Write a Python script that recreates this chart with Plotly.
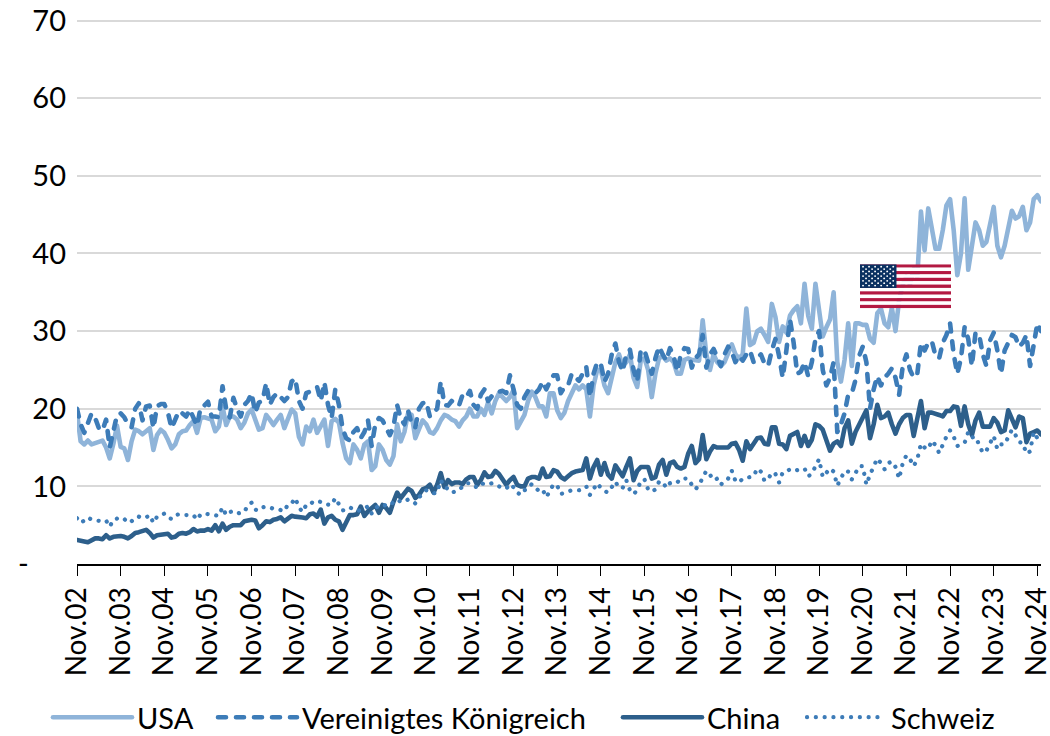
import base64
import plotly.graph_objects as go

usa = [
 19.4,15.8,15.4,15.9,15.4,15.6,15.7,15.9,15.0,13.6,15.5,17.8,
 15.1,14.9,13.4,15.8,17.3,17.1,16.7,17.1,17.5,14.7,16.6,17.3,
 16.9,16.0,14.9,15.4,16.7,17.1,17.2,17.9,18.4,16.9,18.8,18.9,
 18.8,18.6,17.1,17.7,20.3,17.9,19.0,19.0,18.6,17.5,18.2,19.4,
 19.9,18.6,17.3,17.5,19.2,18.6,17.9,18.6,19.2,17.5,18.6,19.9,
 19.4,16.4,15.4,17.7,17.1,18.6,16.9,17.9,18.6,15.2,18.4,18.7,
 18.2,15.6,13.6,13.0,15.4,14.7,13.6,15.4,15.8,12.1,12.6,15.4,
 14.7,13.4,12.8,13.9,18.0,15.8,17.0,19.4,19.2,16.2,17.5,18.5,
 18.0,17.0,16.8,17.5,18.5,19.2,19.0,18.6,18.4,17.7,18.5,19.0,
 20.0,19.0,19.0,20.0,19.2,20.8,19.4,21.0,22.0,21.5,21.0,21.5,
 22.4,17.5,18.5,19.2,21.0,22.2,21.5,20.3,20.3,19.0,22.0,22.0,
 19.8,18.8,19.5,21.0,22.0,23.0,22.5,23.0,22.5,19.0,23.0,25.0,
 25.0,23.0,22.0,24.0,26.0,27.0,25.5,26.0,27.0,24.0,22.8,26.3,
 26.5,25.0,21.5,24.5,26.5,26.8,26.2,26.5,26.0,24.5,24.5,26.3,
 26.5,26.3,26.3,26.2,31.4,27.0,25.0,27.0,26.0,25.5,26.0,27.0,
 28.3,27.0,26.5,27.0,32.9,28.2,28.5,30.0,30.3,29.5,28.6,33.5,
 31.8,28.6,30.6,29.8,32.0,32.7,33.2,31.0,36.1,32.0,30.3,36.1,
 33.0,29.3,30.5,31.5,35.0,26.0,23.5,26.3,31.0,25.5,31.0,31.0,
 30.8,30.8,29.0,28.5,32.3,32.9,31.0,30.5,33.0,30.0,34.0,36.0,
 37.0,36.0,38.0,37.0,45.4,40.4,45.8,43.0,40.6,40.6,43.0,46.2,
 47.0,43.0,37.2,40.0,47.1,37.9,41.5,44.0,43.0,41.0,41.5,44.0,
 46.0,41.0,39.5,41.0,43.5,45.5,44.5,44.8,46.0,43.0,44.0,47.0,
 47.5,46.7]

uk = [
 20.0,18.0,16.9,18.0,19.4,18.8,17.5,17.2,18.6,15.0,17.5,19.2,
 19.4,18.9,18.0,17.6,20.0,20.7,18.5,20.3,20.4,17.5,20.3,20.6,
 20.6,19.5,17.5,18.5,19.7,19.4,19.0,19.9,19.0,17.8,20.2,20.4,
 20.9,19.0,19.0,18.9,22.9,20.0,18.9,21.4,20.0,19.0,20.5,21.0,
 22.0,19.5,20.8,21.0,23.3,20.5,21.5,22.0,21.5,21.0,21.5,23.5,
 23.9,21.0,20.0,22.0,22.2,22.5,22.8,21.0,23.4,20.5,18.8,22.5,
 20.5,17.5,16.2,15.9,17.0,17.5,16.2,17.0,18.5,15.2,18.0,18.8,
 18.5,17.5,16.6,17.7,20.5,18.7,18.0,19.8,18.0,17.6,20.0,20.7,
 20.9,19.0,19.6,20.0,23.5,20.5,20.4,21.0,20.6,20.4,21.8,21.5,
 22.3,20.5,20.0,21.8,22.5,21.0,21.6,22.0,22.2,22.3,22.0,24.3,
 22.5,20.5,20.0,21.5,22.3,22.3,22.0,22.5,23.5,22.5,23.5,24.3,
 24.3,22.0,22.8,23.0,24.5,24.0,23.6,24.5,25.4,21.5,24.5,26.0,
 25.8,23.5,24.5,27.0,28.4,26.0,24.8,27.0,27.6,25.0,23.5,27.6,
 27.5,26.0,24.5,26.5,28.0,27.0,26.2,27.8,26.8,24.8,27.0,27.8,
 27.7,25.3,26.5,27.0,29.5,25.3,27.0,27.7,26.5,25.5,27.0,28.0,
 27.3,26.0,26.8,26.2,27.0,27.5,26.0,26.5,27.0,25.8,25.5,27.5,
 29.0,26.8,24.0,27.5,31.5,28.5,24.5,24.8,26.0,24.2,26.0,29.0,
 30.0,25.0,23.0,24.0,26.0,17.0,18.0,19.4,21.8,22.0,23.7,26.8,
 28.0,26.0,20.0,22.5,24.2,23.0,24.0,24.5,25.2,24.0,21.8,25.5,
 27.0,25.0,24.0,24.5,28.5,27.5,28.5,28.7,26.8,26.5,28.5,29.5,
 31.0,27.0,24.5,26.5,30.5,29.0,25.5,29.8,29.5,27.0,25.5,28.8,
 29.8,27.5,24.5,27.5,28.5,29.5,29.2,28.0,28.5,29.5,25.5,28.5,
 31.0,30.0]

china = [
 3.1,3.05,2.9,2.8,3.1,3.3,3.3,3.2,3.7,3.3,3.5,3.6,
 3.6,3.5,3.3,3.6,4.0,4.1,4.2,4.4,4.0,3.4,3.7,3.8,
 3.9,3.9,3.4,3.5,3.9,4.0,3.9,4.1,4.5,4.2,4.3,4.3,
 4.5,4.3,5.0,4.2,5.2,4.4,4.8,5.0,5.0,5.0,5.5,5.6,
 5.7,5.6,4.6,5.0,5.5,5.4,5.7,5.8,6.0,5.5,5.9,6.2,
 6.1,6.1,6.0,5.9,6.4,6.5,6.1,7.0,5.2,6.0,6.2,5.7,
 5.5,4.4,5.5,6.3,6.3,6.4,7.4,6.2,6.8,7.2,7.6,6.6,
 7.6,7.2,6.6,8.0,9.2,8.5,9.2,9.7,9.4,8.5,8.9,9.6,
 9.8,10.2,9.2,10.2,11.7,9.9,10.8,10.3,10.5,10.5,10.3,10.9,
 11.2,11.2,10.2,10.8,11.8,11.2,11.3,12.0,11.6,10.8,10.2,10.8,
 11.2,10.2,10.0,10.0,11.0,11.2,11.2,11.0,12.3,11.2,11.3,12.1,
 11.9,11.2,10.9,11.3,11.7,11.9,12.0,12.1,13.6,11.0,12.5,13.4,
 11.5,13.0,11.5,11.0,12.7,12.0,11.3,12.5,13.6,10.8,12.0,12.5,
 12.5,12.5,11.0,11.2,12.8,13.4,11.5,13.0,13.2,12.5,12.3,12.5,
 14.2,15.2,13.0,13.5,16.6,13.5,14.5,15.2,15.0,15.0,15.0,15.0,
 15.5,15.6,14.7,13.3,15.8,14.8,15.5,16.2,16.3,15.5,15.4,17.6,
 17.6,15.5,15.4,14.8,16.5,16.8,17.0,15.2,16.5,15.2,16.0,18.0,
 17.8,17.3,15.8,14.6,15.5,15.8,15.2,17.5,18.5,15.5,17.0,18.0,
 19.0,19.8,16.2,18.0,20.5,18.8,19.0,19.5,18.0,16.8,18.0,18.8,
 19.2,19.2,16.5,18.5,21.0,17.5,19.5,19.5,19.4,19.2,19.0,19.7,
 19.7,20.3,20.2,17.8,20.3,18.0,16.6,18.5,19.5,17.7,17.7,17.7,
 18.8,18.2,17.0,17.2,19.8,18.8,17.6,19.0,18.8,15.7,16.8,17.0,
 17.2,16.7]

schweiz = [
 5.9,5.3,5.6,6.0,5.7,5.6,5.6,5.5,5.6,4.8,5.7,5.9,
 6.0,5.8,5.3,5.5,6.0,6.1,5.9,6.0,6.3,5.3,6.1,6.2,
 6.5,6.0,5.8,6.3,6.4,6.3,6.3,6.3,6.3,5.7,6.4,6.5,
 6.4,6.4,6.3,6.2,7.3,6.3,6.7,6.8,6.5,6.6,6.7,7.6,
 7.9,7.0,6.9,7.3,7.4,7.3,7.1,7.1,7.0,6.8,7.7,7.8,
 8.5,7.3,6.7,7.6,7.6,8.1,8.1,8.0,7.7,7.6,7.6,8.5,
 7.7,6.9,7.0,7.3,7.0,6.8,7.0,7.2,7.4,6.5,7.2,7.5,
 7.7,7.5,7.5,8.0,8.3,8.0,8.0,8.3,8.2,7.8,8.6,9.0,
 9.5,9.4,9.1,9.2,10.8,9.9,9.7,9.2,9.4,9.5,10.0,10.4,
 10.4,10.0,9.9,10.4,10.3,10.2,10.4,10.3,10.0,9.8,9.7,10.3,
 9.9,9.2,8.9,9.5,9.7,10.3,9.9,9.4,9.6,8.6,9.4,10.3,
 10.1,9.0,9.2,9.4,9.5,9.5,9.5,9.7,10.0,8.9,9.6,10.4,
 9.8,9.4,9.2,10.0,10.6,9.8,9.8,10.8,9.5,9.0,9.5,10.7,
 10.9,9.6,9.3,9.6,10.6,10.6,9.8,10.4,10.6,10.5,11.0,11.0,
 11.0,10.2,9.6,10.2,11.0,12.0,11.5,10.8,11.0,10.2,10.8,11.0,
 12.0,10.7,10.5,11.0,11.1,11.2,11.3,12.3,11.9,10.7,10.9,11.8,
 11.6,10.5,11.8,11.9,12.2,12.0,12.1,12.2,12.3,11.3,11.6,12.6,
 13.5,11.2,11.8,12.3,11.9,10.1,11.0,12.0,11.9,10.9,11.7,12.6,
 12.6,10.2,11.5,12.6,13.6,13.0,12.2,13.0,13.2,12.5,11.0,13.0,
 14.0,13.5,12.6,13.5,15.5,15.0,14.8,15.9,15.3,14.3,15.4,16.4,
 17.2,16.4,15.2,15.4,15.6,17.0,16.3,16.4,15.2,14.3,14.6,15.6,
 16.5,14.8,15.4,15.4,16.3,17.3,16.6,15.7,15.6,14.2,14.5,17.0,
 16.2,16.5]

tick_labels = ["Nov.%02d" % y for y in range(2, 25)]
y_ticks = [0, 10, 20, 30, 40, 50, 60, 70]
y_labels = ["-" + "\u00a0" * 5, "10", "20", "30", "40", "50", "60", "70"]
series_names = ["USA", "Vereinigtes Königreich", "China", "Schweiz"]

FONT = "Lato, Carlito, Calibri, sans-serif"
x = list(range(len(usa)))

L, R, T, B = 77, 1041, 18.5, 564
W, H = R - L, B - T

fig = go.Figure()
fig.add_scatter(x=x, y=usa, name=series_names[0], mode="lines", legend="legend", showlegend=True,
                line=dict(color="#8FB4D9", width=4.6))
fig.add_scatter(x=x, y=uk, name=series_names[1], mode="lines", legend="legend2", showlegend=True,
                line=dict(color="#3D7CB8", width=4.6, dash="8px,10px"))
fig.add_scatter(x=x, y=china, name=series_names[2], mode="lines", legend="legend3", showlegend=True,
                line=dict(color="#2D5F8B", width=4.6))
fig.add_scatter(x=x, y=schweiz, name=series_names[3], mode="lines", legend="legend4", showlegend=True,
                line=dict(color="#3D7CB8", width=4.2, dash="0.1px,8.7px"))

# US flag as an inline SVG
stripes = "".join(
    f'<rect y="{i}" width="247" height="1" fill="{"#B31942" if i % 2 == 0 else "#FFFFFF"}"/>'
    for i in range(13))
stars = ""
for r in range(9):
    cols = 6 if r % 2 == 0 else 5
    for c in range(cols):
        stars += (f'<ellipse cx="{8.2 + c*16.4 + (0 if r % 2 == 0 else 8.2):.1f}" '
                  f'cy="{0.7 + r*0.7:.2f}" rx="2.6" ry="0.26" fill="#fff"/>')
svg = ('<svg xmlns="http://www.w3.org/2000/svg" viewBox="0 0 247 13" '
       'width="910" height="440" preserveAspectRatio="none">' + stripes +
       '<rect width="99" height="7" fill="#0A3161"/>' + stars + '</svg>')
uri = "data:image/svg+xml;base64," + base64.b64encode(svg.encode()).decode()

def legend_at(px):
    return dict(orientation="h", xref="paper", x=(px - L) / W, xanchor="left",
                yref="container", y=0.06, yanchor="top",
                itemwidth=79, font=dict(size=29, family=FONT),
                bgcolor="rgba(0,0,0,0)")

fig.update_layout(
    width=1050, height=736,
    margin=dict(l=L, r=1050 - R, t=T, b=736 - B, autoexpand=False),
    paper_bgcolor="white", plot_bgcolor="white",
    font=dict(family=FONT, size=28, color="black"),
    xaxis=dict(range=[0, 265], tickmode="array", tickvals=[12*i for i in range(23)],
               ticktext=tick_labels, tickangle=-90, showgrid=False, zeroline=False,
               showline=True, linecolor="black", linewidth=2.2,
               ticks="outside", ticklen=10, tickwidth=1.2, tickcolor="black",
               ticklabeloverflow="allow", automargin=False,
               tickfont=dict(size=28, family=FONT)),
    yaxis=dict(range=[0, 70.2], tickmode="array", tickvals=y_ticks, ticktext=y_labels,
               showgrid=True, gridcolor="#D9D9D9", gridwidth=2, zeroline=False,
               showline=False, ticks="", ticklen=0, ticklabelstandoff=10, automargin=False,
               ticklabeloverflow="allow",
               tickfont=dict(size=29, family=FONT)),
    legend=legend_at(48),
    legend2=legend_at(213),
    legend3=legend_at(618),
    legend4=legend_at(802),
    images=[dict(source=uri, xref="paper", yref="paper", x=(860 - L) / W,
                 y=(B - 264) / H, sizex=91 / W, sizey=44 / H,
                 xanchor="left", yanchor="top", sizing="stretch", layer="above")],
)

round_caps = """
function roundCaps(){
  document.querySelectorAll('path.js-line, .legendlines path').forEach(function(p){
    p.style.strokeLinecap='round'; p.style.strokeLinejoin='round';
  });
}
roundCaps(); setTimeout(roundCaps, 50);
document.body.style.margin='0';
"""
fig.write_html("out.html", config={"displayModeBar": False}, post_script=round_caps)
